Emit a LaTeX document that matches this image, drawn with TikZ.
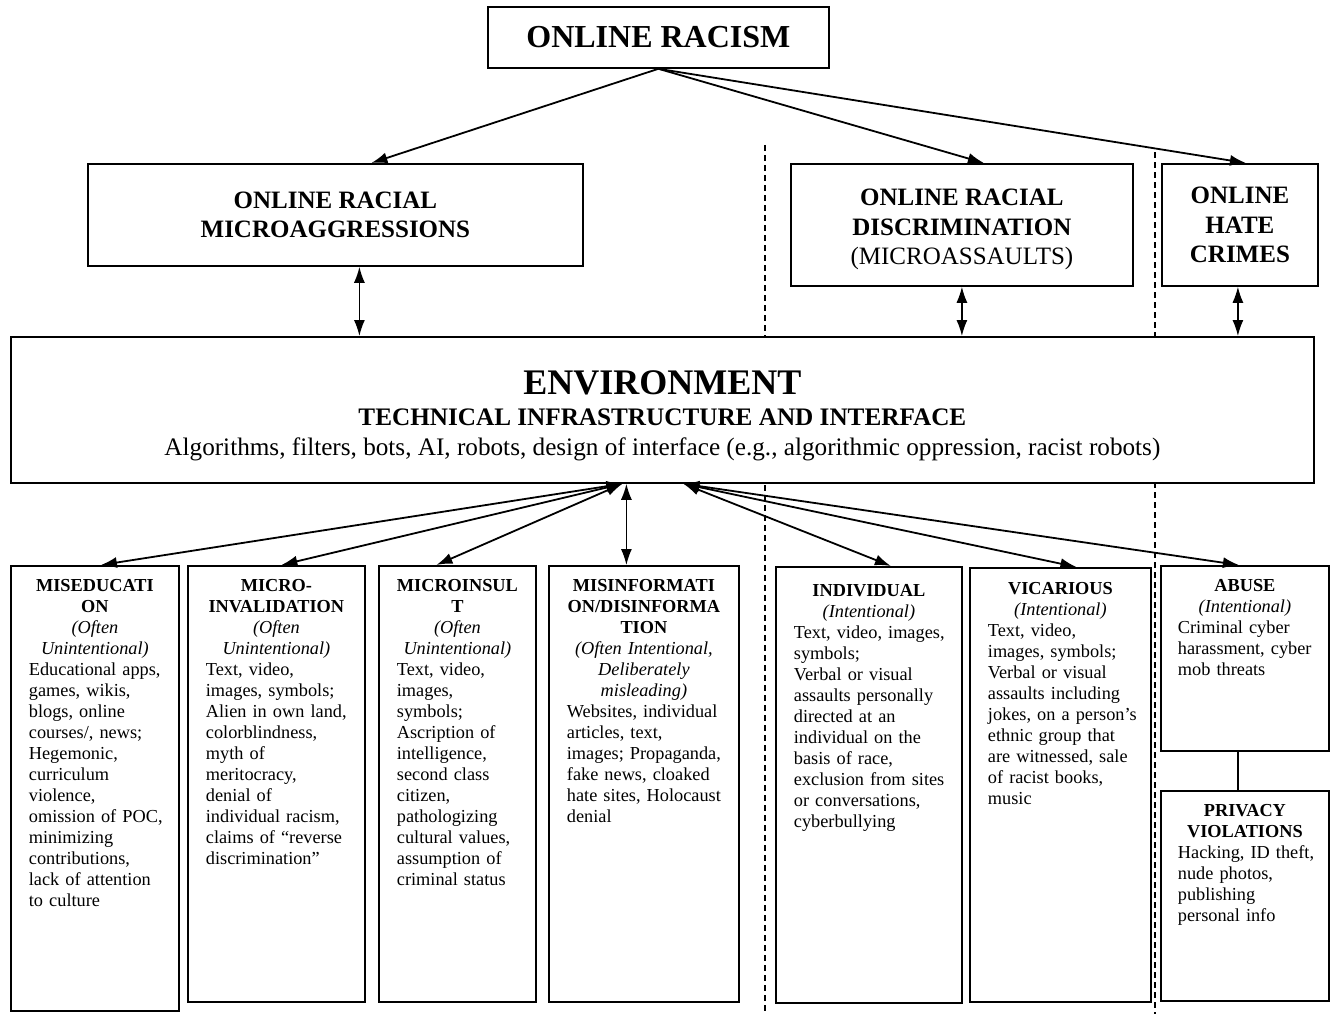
\documentclass[tikz,border=0pt]{standalone}
\usepackage{fontspec}
\setmainfont{Liberation Serif}
\usetikzlibrary{arrows.meta,positioning}

\newcommand{\cathead}[1]{{\centering #1\par}}
\newcommand{\catbody}[1]{\begin{tabular}[t]{@{}l@{}}#1\end{tabular}}

\begin{document}
\begin{tikzpicture}[x=1pt, y=-1pt, >={Latex[length=16pt, width=11pt]}, line width=1.8pt]
\useasboundingbox (0,0) rectangle (1330,1014);
\tikzstyle{every node} = [inner sep=0pt, line width=1.8pt]
\tikzstyle{topbox} = [draw, fill=white, anchor=north west, align=center, font=\fontsize{25}{29.5}\selectfont\bfseries]
\tikzstyle{catbox} = [draw, anchor=north west]
\tikzstyle{cattext} = [anchor=north, font=\fontsize{18.3}{21}\selectfont]
\draw[dashed, line width=1.2pt, dash pattern=on 6pt off 4pt] (765,145) -- (765,1014);
\draw[dashed, line width=1.2pt, dash pattern=on 6pt off 4pt] (1155,152) -- (1155,1014);
\node[topbox, minimum width=341pt, minimum height=61pt, font=\fontsize{32}{36}\selectfont\bfseries] (racism) at (487,6) {ONLINE RACISM};
\node[topbox, minimum width=495pt, minimum height=102pt] (microagg) at (87,163) {ONLINE RACIAL\\MICROAGGRESSIONS};
\node[topbox, minimum width=342pt, minimum height=122pt] (discrim) at (790,163) {\rule{0pt}{26pt}ONLINE RACIAL\\DISCRIMINATION\\{\mdseries (MICROASSAULTS)}};
\node[topbox, minimum width=156pt, minimum height=122pt] (hate) at (1161,163) {ONLINE\\HATE\\CRIMES};
\node[topbox, minimum width=1303pt, minimum height=146pt, font=\fontsize{25.2}{30}\selectfont] (env) at (10,336) {{\fontsize{36}{40}\selectfont\bfseries\rule{0pt}{35pt}ENVIRONMENT}\\[1pt]\textbf{TECHNICAL INFRASTRUCTURE AND INTERFACE}\\Algorithms, filters, bots, AI, robots, design of interface (e.g., algorithmic oppression, racist robots)};
\node[catbox, minimum width=168pt, minimum height=445pt] (miseduc) at (10,565) {};
\node[catbox, minimum width=177pt, minimum height=436pt] (microinv) at (187,565) {};
\node[catbox, minimum width=157pt, minimum height=436pt] (microins) at (378,565) {};
\node[catbox, minimum width=190pt, minimum height=436pt] (misinf) at (548,565) {};
\node[catbox, minimum width=186pt, minimum height=436pt] (indiv) at (775,566) {};
\node[catbox, minimum width=181pt, minimum height=434pt] (vicar) at (969,567) {};
\node[catbox, minimum width=168pt, minimum height=185pt] (abuse) at (1160,565) {};
\node[catbox, minimum width=168pt, minimum height=210pt] (privacy) at (1160,790) {};
\node[cattext, text width=132pt, below=13pt of miseduc.north] (miseduc-t) {\cathead{\textbf{MISEDUCATI\\ON}\\\textit{(Often\\Unintentional)}}\catbody{Educational apps,\\games, wikis,\\blogs, online\\courses/, news;\\Hegemonic,\\curriculum\\violence,\\omission of POC,\\minimizing\\contributions,\\lack of attention\\to culture}};
\node[cattext, text width=141pt, below=13pt of microinv.north] (microinv-t) {\cathead{\textbf{MICRO-\\INVALIDATION}\\\textit{(Often\\Unintentional)}}\catbody{Text, video,\\images, symbols;\\Alien in own land,\\colorblindness,\\myth of\\meritocracy,\\denial of\\individual racism,\\claims of “reverse\\discrimination”}};
\node[cattext, text width=121pt, below=13pt of microins.north] (microins-t) {\cathead{\textbf{MICROINSUL\\T}\\\textit{(Often\\Unintentional)}}\catbody{Text, video,\\images,\\symbols;\\Ascription of\\intelligence,\\second class\\citizen,\\pathologizing\\cultural values,\\assumption of\\criminal status}};
\node[cattext, text width=154pt, below=13pt of misinf.north] (misinf-t) {\cathead{\textbf{MISINFORMATI\\ON/DISINFORMA\\TION}\\\textit{(Often Intentional,\\Deliberately\\misleading)}}\catbody{Websites, individual\\articles, text,\\images; Propaganda,\\fake news, cloaked\\hate sites, Holocaust\\denial}};
\node[cattext, text width=150pt, below=18pt of indiv.north] (indiv-t) {\cathead{\textbf{INDIVIDUAL}\\\textit{(Intentional)}}\catbody{Text, video, images,\\symbols;\\Verbal or visual\\assaults personally\\directed at an\\individual on the\\basis of race,\\exclusion from sites\\or conversations,\\cyberbullying}};
\node[cattext, text width=145pt, below=14pt of vicar.north] (vicar-t) {\cathead{\textbf{VICARIOUS}\\\textit{(Intentional)}}\catbody{Text, video,\\images, symbols;\\Verbal or visual\\assaults including\\jokes, on a person’s\\ethnic group that\\are witnessed, sale\\of racist books,\\music}};
\node[cattext, text width=134pt, below=13pt of abuse.north] (abuse-t) {\cathead{\textbf{ABUSE}\\\textit{(Intentional)}}\catbody{Criminal cyber\\harassment, cyber\\mob threats}};
\node[cattext, text width=134pt, below=13pt of privacy.north] (privacy-t) {\cathead{\textbf{PRIVACY\\VIOLATIONS}}\catbody{Hacking, ID theft,\\nude photos,\\publishing\\personal info}};
\draw[->] (racism.south) -- ([xshift=36pt]microagg.north);
\draw[->] (racism.south) -- ([xshift=22pt]discrim.north);
\draw[->] (racism.south) -- ([xshift=6pt]hate.north);
\draw[<->, line width=1.4pt] ([xshift=24pt]microagg.south) -- ([xshift=24pt]microagg.south |- env.north);
\draw[<->, line width=1.4pt] (discrim.south) -- (discrim.south |- env.north);
\draw[<->, line width=1.4pt] ([xshift=-2pt]hate.south) -- ([xshift=-2pt]hate.south |- env.north);
\coordinate (hubl) at ([xshift=-40pt]env.south);
\coordinate (hubr) at ([xshift=21pt]env.south);
\draw[<->] (hubl) -- ([xshift=6pt]miseduc.north);
\draw[<->] (hubl) -- ([xshift=5pt]microinv.north);
\draw[<->] (hubl) -- ([xshift=-21pt]microins.north);
\draw[<->, line width=1.4pt] ([xshift=-36pt]env.south) -- ([xshift=-36pt]env.south |- misinf.north);
\draw[<->] (hubr) -- ([xshift=22pt]indiv.north);
\draw[<->] (hubr) -- ([xshift=16pt]vicar.north);
\draw[<->] (hubr) -- ([xshift=-6pt]abuse.north);
\draw[line width=1.4pt] ([xshift=-7pt]abuse.south) -- ([xshift=-7pt]abuse.south |- privacy.north);
\end{tikzpicture}
\end{document}
